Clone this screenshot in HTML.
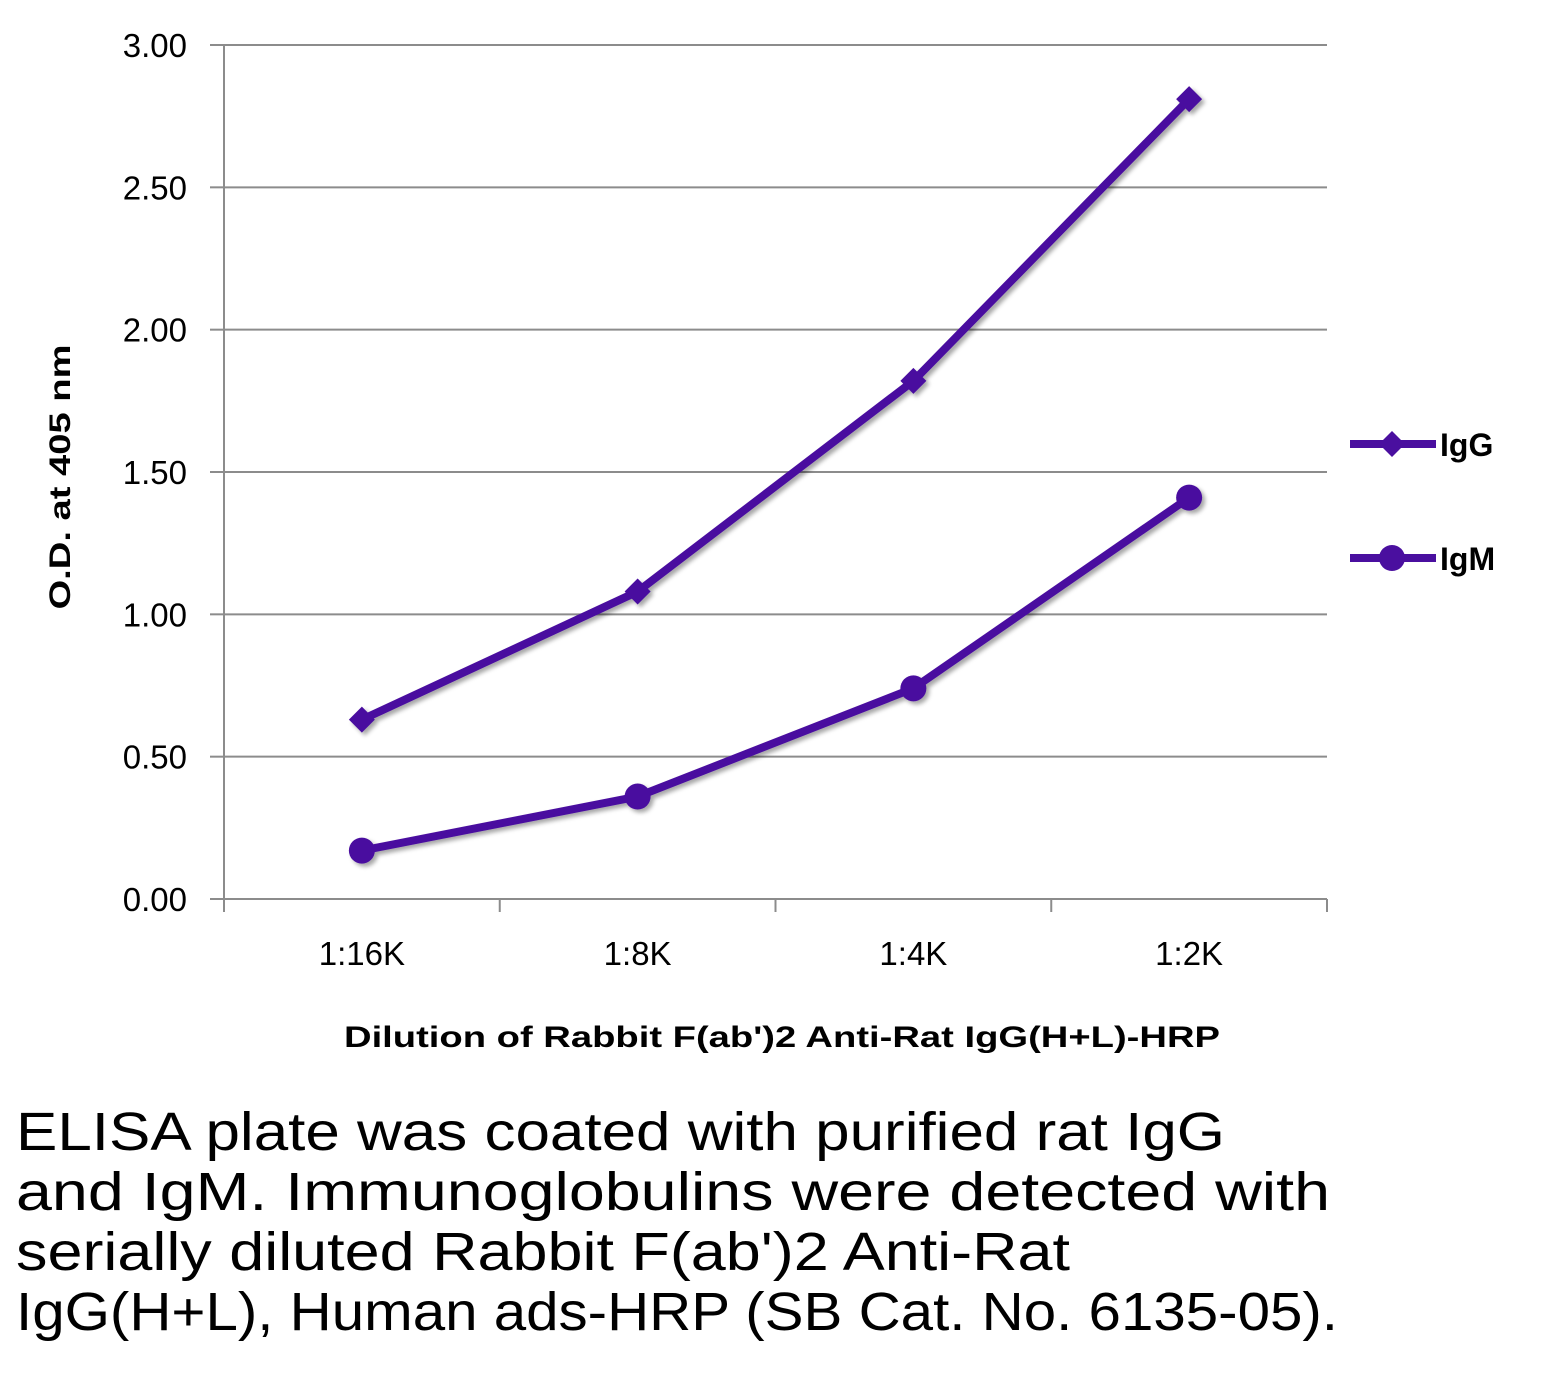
<!DOCTYPE html>
<html><head><meta charset="utf-8"><style>html,body{margin:0;padding:0;background:#fff}svg{display:block}</style></head>
<body>
<svg id="chart" width="1554" height="1382" viewBox="0 0 1554 1382" font-family="'Liberation Sans', sans-serif">
<defs><filter id="sh" x="-10%" y="-10%" width="120%" height="120%"><feDropShadow dx="3" dy="3" stdDeviation="2" flood-color="#000" flood-opacity="0.35"/></filter></defs>
<g id="grid"></g><g id="axes"></g><g id="series"></g><g id="legend"></g>
<text transform="translate(70,477) rotate(-90)" text-anchor="middle" font-size="30" font-weight="bold" textLength="265" lengthAdjust="spacingAndGlyphs">O.D. at 405 nm</text>
<text x="782" y="1047" text-anchor="middle" font-size="30" font-weight="bold" textLength="876" lengthAdjust="spacingAndGlyphs">Dilution of Rabbit F(ab')2 Anti-Rat IgG(H+L)-HRP</text>
<g font-size="54">
<text x="16" y="1150" textLength="1209" lengthAdjust="spacingAndGlyphs">ELISA plate was coated with purified rat IgG</text>
<text x="16" y="1210" textLength="1314" lengthAdjust="spacingAndGlyphs">and IgM.  Immunoglobulins were detected with</text>
<text x="16" y="1270" textLength="1054" lengthAdjust="spacingAndGlyphs">serially diluted Rabbit F(ab')2 Anti-Rat</text>
<text x="16" y="1330" textLength="1322" lengthAdjust="spacingAndGlyphs">IgG(H+L), Human ads-HRP (SB Cat. No. 6135-05).</text>
</g>
</svg>
<script>
const categories = ["1:16K","1:8K","1:4K","1:2K"];
const igG = [0.63, 1.08, 1.82, 2.81];
const igM = [0.17, 0.36, 0.74, 1.41];
const yTicks = [0,0.5,1,1.5,2,2.5,3];
const yTickLabels = ["0.00","0.50","1.00","1.50","2.00","2.50","3.00"];
const NS="http://www.w3.org/2000/svg";
const X0=224,X1=1327,Y0=899,Y3=45,color="#4a0f9f";
const bw=(X1-X0)/categories.length;
const xs=i=>X0+bw*(i+0.5);
const ys=v=>Y0-(Y0-Y3)*v/3;
function mk(t,a,p){const e=document.createElementNS(NS,t);for(const k in a)e.setAttribute(k,a[k]);p.appendChild(e);return e;}
const grid=document.getElementById('grid'),axes=document.getElementById('axes'),ser=document.getElementById('series'),leg=document.getElementById('legend');
yTicks.forEach((v,i)=>{
  if(v>0){const l=mk('line',{x1:X0,x2:X1,y1:ys(v),y2:ys(v),stroke:'#8c8c8c','stroke-width':2},grid);
  
  }
  const tk=mk('line',{x1:X0-14,x2:X0,y1:ys(v),y2:ys(v),stroke:'#8c8c8c','stroke-width':2},axes);
  
  
  const t=mk('text',{x:187,y:ys(v)+12,'text-anchor':'end','font-size':33},axes);t.textContent=yTickLabels[i];
  
  
});
const ya=mk('line',{x1:X0,x2:X0,y1:Y3,y2:Y0,stroke:'#8c8c8c','stroke-width':2},axes);


const xa=mk('line',{x1:X0,x2:X1,y1:Y0,y2:Y0,stroke:'#8c8c8c','stroke-width':2},axes);


for(let i=0;i<=categories.length;i++){const x=X0+bw*i;const l=mk('line',{x1:x,x2:x,y1:Y0,y2:Y0+13,stroke:'#8c8c8c','stroke-width':2},axes);
  
  }
categories.forEach((c,i)=>{const t=mk('text',{x:xs(i),y:965,'text-anchor':'middle','font-size':33},axes);t.textContent=c;
  
  });
function diamond(g,x,y,r){return mk('polygon',{points:`${x},${y-r} ${x+r},${y} ${x},${y+r} ${x-r},${y}`,fill:color},g);}
function series(vals,name,shape){
  const g=mk('g',{filter:'url(#sh)'},ser);
  
  
  const p=mk('polyline',{points:vals.map((v,i)=>xs(i)+','+ys(v)).join(' '),fill:'none',stroke:color,'stroke-width':8,'stroke-linejoin':'round'},g);
  
  
  vals.forEach((v,i)=>{const m=shape==='d'?diamond(g,xs(i),ys(v),13):mk('circle',{cx:xs(i),cy:ys(v),r:13,fill:color},g);
    
    });
}
series(igG,'igg','d');series(igM,'igm','c');
[['IgG',444,'d'],['IgM',558,'c']].forEach(([lab,y,s])=>{
  const g=mk('g',{},leg);
  
  
  mk('line',{x1:1350,x2:1436,y1:y,y2:y,stroke:color,'stroke-width':8},g);
  if(s==='d')diamond(g,1392,y,13);else mk('circle',{cx:1392,cy:y,r:13,fill:color},g);
  const t=mk('text',{x:1440,y:y+12,'font-size':32,'font-weight':'bold'},g);t.textContent=lab;
});
</script>
</body></html>
